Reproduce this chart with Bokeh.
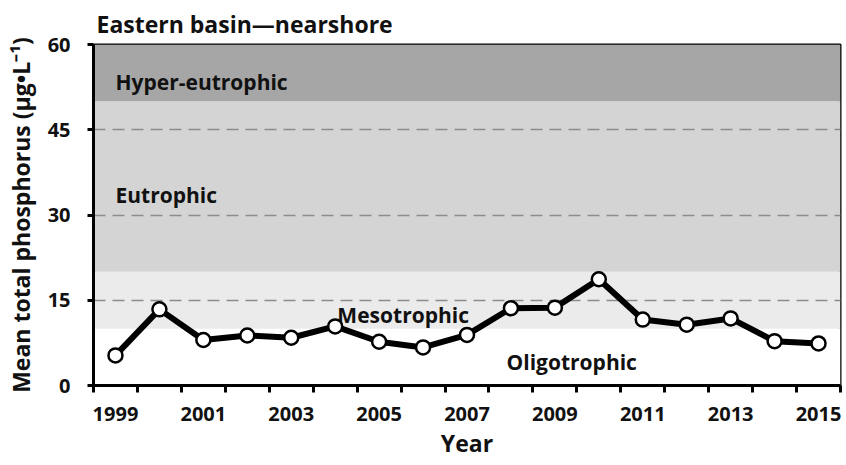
from bokeh.plotting import figure
from bokeh.models import Range1d, FixedTicker, ColumnDataSource
from bokeh.core.properties import value
from bokeh.embed import file_html
from bokeh.resources import INLINE

# ---- data ----
years = [1999, 2000, 2001, 2002, 2003, 2004, 2005, 2006, 2007, 2008,
         2009, 2010, 2011, 2012, 2013, 2014, 2015]
tp = [5.3, 13.4, 8.0, 8.8, 8.4, 10.4, 7.7, 6.7, 8.9, 13.6,
      13.7, 18.7, 11.6, 10.7, 11.8, 7.8, 7.4]

band_names = ["Oligotrophic", "Mesotrophic", "Eutrophic", "Hyper-eutrophic"]
band_bottom = [0, 10, 20, 50]
band_top = [10, 20, 50, 60]
band_colors = ["#ffffff", "#ebebeb", "#d4d4d4", "#a6a6a6"]

label_x = [2007.9, 2004.05, 1999.0, 1999.0]
label_y = [4.1, 12.45, 33.45, 53.4]

y_ticks = [0, 15, 30, 45, 60]
grid_vals = [15, 30, 45]
x_label_years = [1999, 2001, 2003, 2005, 2007, 2009, 2011, 2013, 2015]

FONT = "Open Sans"

x0, x1 = years[0] - 0.5, years[-1] + 0.5

p = figure(width=842, height=461, output_backend="svg", toolbar_location=None,
           x_range=Range1d(x0, x1), y_range=Range1d(0, 60),
           min_border_left=93, min_border_right=2, min_border_top=44,
           min_border_bottom=76)

p.background_fill_color = "white"
p.border_fill_color = "white"
p.outline_line_color = "black"
p.outline_line_width = 2

# bands
bands = ColumnDataSource(dict(bottom=band_bottom, top=band_top, color=band_colors,
                              left=[x0] * 4, right=[x1] * 4))
r = p.quad(left="left", right="right", bottom="bottom", top="top",
           fill_color="color", line_color=None, source=bands)
r.level = "image"

# band labels
lab = ColumnDataSource(dict(x=label_x, y=label_y, text=band_names))
p.text(x="x", y="y", text="text", source=lab, text_font=value(FONT),
       text_font_style="bold", text_font_size="21px", text_color="#111111",
       text_baseline="alphabetic", text_align="left")

# data
p.line(years, tp, line_color="black", line_width=6)
p.scatter(years, tp, size=14, fill_color="white", line_color="black", line_width=2.5)

# grid
p.xgrid.visible = False
p.ygrid.ticker = FixedTicker(ticks=grid_vals)
p.ygrid.grid_line_color = "#8c8c8c"
p.ygrid.grid_line_width = 1.5
p.ygrid.grid_line_dash = "12 7"
p.ygrid.level = "underlay"

# axes
p.yaxis.ticker = FixedTicker(ticks=y_ticks)
p.xaxis.ticker = FixedTicker(ticks=x_label_years,
                             minor_ticks=[y - 0.5 for y in years] + [x1])
for ax in (p.xaxis[0], p.yaxis[0]):
    ax.axis_line_width = 3
    ax.axis_line_color = "black"
    ax.major_label_text_font = FONT
    ax.major_label_text_font_style = "bold"
    ax.major_label_text_font_size = "20px"
    ax.major_label_text_color = "#111111"
    ax.axis_label_text_font = FONT
    ax.axis_label_text_font_style = "bold"
    ax.axis_label_text_font_size = "23px"
    ax.axis_label_text_color = "#111111"

p.xaxis.major_tick_out = 0
p.xaxis.major_tick_in = 0
p.xaxis.minor_tick_out = 7
p.xaxis.minor_tick_in = 0
p.xaxis.minor_tick_line_width = 3
p.xaxis.minor_tick_line_color = "black"
p.xaxis.major_label_standoff = 14
p.xaxis.axis_label = "Year"
p.xaxis.axis_label_standoff = 3

p.yaxis.major_tick_out = 6
p.yaxis.major_tick_in = 0
p.yaxis.major_tick_line_width = 3
p.yaxis.minor_tick_line_color = None
p.yaxis.major_label_standoff = 17
p.yaxis.axis_label = "Mean total phosphorus (µg•L\u207b\u00b9)"
p.yaxis.axis_label_standoff = 8

p.title.text = "Eastern basin\u2014nearshore"
p.title.text_font = FONT
p.title.text_font_style = "bold"
p.title.text_font_size = "23px"
p.title.text_color = "#111111"
p.title.align = "left"
p.title.offset = 3
p.title.standoff = 9

open("out.html", "w").write(file_html(p, INLINE))
